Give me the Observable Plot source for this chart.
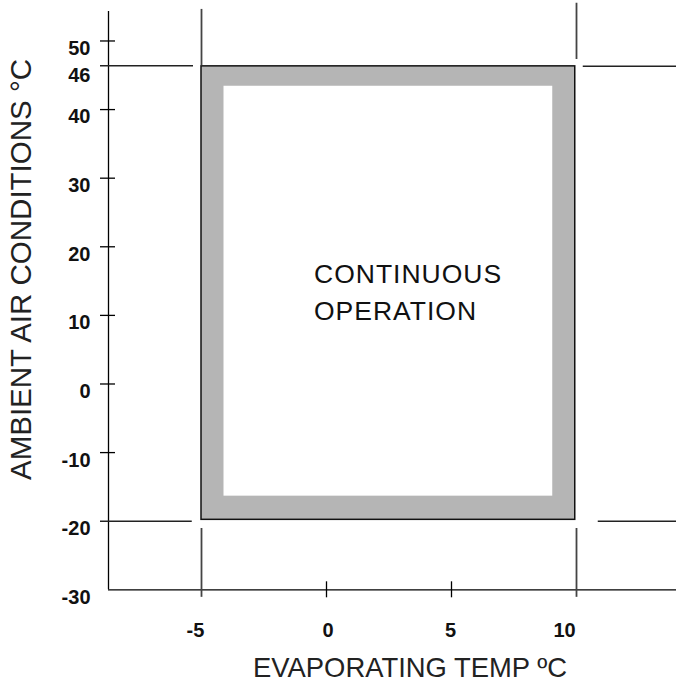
<!DOCTYPE html>
<html><head><meta charset="utf-8">
<script src="https://cdn.jsdelivr.net/npm/d3@7"></script>
<script src="https://cdn.jsdelivr.net/npm/@observablehq/plot@0.6"></script>
<style>body{margin:0;background:#fff} svg{display:block}</style>
</head><body><div id="chart"></div>
<script>
// ---- data ----
const xDomain = [-8.72, 14];
const yDomain = [-30, 55.9];
const xTicks = [-5, 0, 5, 10];
const yTicks = [50, 46, 40, 30, 20, 10, 0, -10, -20, -30];
const xShortTicks = [0, 5];
const yShortTicks = [50, 40, 30, 20, 10, 0, -10];
const yAxisTop = 54.3;
// operating envelope: outer (gray band) and inner (continuous operation)
const envelopeOuter = [{x1: -5, x2: 9.95, y1: -19.8, y2: 46.3}];
const envelopeInner = [{x1: -4.1, x2: 9.05, y1: -16.35, y2: 43.4}];
// limit guide segments
const limitLinesH = [
  {y: 46.4, x1: -9.04, x2: -5.32},
  {y: 46.3, x1: 10.27, x2: 14},
  {y: -20, x1: -9.04, x2: -5.37},
  {y: -20, x1: 10.87, x2: 14}
];
const limitLinesV = [
  {x: -5, y1: 46.4, y2: 54.6},
  {x: -5, y1: -31.1, y2: -21.06},
  {x: 10, y1: 47.3, y2: 55.5},
  {x: 10, y1: -31.1, y2: -21.06}
];
const regionLabel = [{x: -0.5, y: 9.26, text: "CONTINUOUS\nOPERATION"}];
const xTitle = "EVAPORATING TEMP ºC";
const yTitle = "AMBIENT AIR CONDITIONS °C";

// ---- chart ----
const font = "'Liberation Sans', Arial, sans-serif";
const xNudge = {"-5": -6, "0": 1.5, "5": -1, "10": -12};

const chart = Plot.plot({
  width: 676,
  height: 685,
  marginLeft: 108,
  marginRight: 0,
  marginTop: 0,
  marginBottom: 95.7,
  x: {domain: xDomain, axis: null},
  y: {domain: yDomain, axis: null},
  style: {fontFamily: font, background: "#fff"},
  marks: [
    Plot.rect(envelopeOuter, {x1: "x1", x2: "x2", y1: "y1", y2: "y2", fill: "#b5b5b5", stroke: "#111", strokeWidth: 1.5}),
    Plot.rect(envelopeInner, {x1: "x1", x2: "x2", y1: "y1", y2: "y2", fill: "#fff"}),
    // axes lines
    Plot.ruleX([xDomain[0]], {x: d => d, y1: yDomain[0], y2: yAxisTop, stroke: "#000", strokeWidth: 1.3}),
    Plot.ruleY([yDomain[0]], {y: d => d, x1: xDomain[0], x2: xDomain[1], stroke: "#000", strokeWidth: 1.3}),
    // short ticks
    Plot.ruleY(yShortTicks, {y: d => d, x1: xDomain[0], x2: xDomain[0], insetLeft: -8, insetRight: -7, stroke: "#000", strokeWidth: 1.3}),
    Plot.ruleX(xShortTicks, {x: d => d, y1: yDomain[0], y2: yDomain[0], insetTop: -8, insetBottom: -8, stroke: "#000", strokeWidth: 1.3}),
    // limit guides
    Plot.ruleY(limitLinesH, {y: "y", x1: "x1", x2: "x2", stroke: "#222", strokeWidth: 1.5}),
    Plot.ruleX(limitLinesV, {x: "x", y1: "y1", y2: "y2", stroke: "#444", strokeWidth: 1.8}),
    // y tick labels
    Plot.text(yTicks, {x: xDomain[0], y: d => d, text: d => String(d), textAnchor: "end", dx: -18, dy: 7.5, fontWeight: "bold", fontSize: 20, fill: "#111"}),
    // x tick labels
    ...xTicks.map(t => Plot.text([t], {x: d => d, y: yDomain[0], text: d => String(d), dy: 41, dx: xNudge[String(t)], fontWeight: "bold", fontSize: 20, fill: "#111"})),
    // region label
    Plot.text(regionLabel, {x: "x", y: "y", text: "text", textAnchor: "start", lineAnchor: "bottom", fontSize: 26.5, lineHeight: 1.42, fill: "#111"}),
    // axis titles
    Plot.text([xTitle], {x: 3.34, y: -42.73, text: d => d, lineAnchor: "bottom", fontSize: 27.4, fill: "#222"}),
    Plot.text([yTitle], {x: -12.2, y: 16.69, text: d => d, rotate: -90, fontSize: 29.5, fill: "#222"})
  ]
});
// slightly wider letter spacing for the region label, as in the reference
d3.select(chart).selectAll("text").filter(function() {
  return this.textContent.startsWith("CONTINUOUS");
}).attr("letter-spacing", "1px");
document.getElementById("chart").appendChild(chart);
</script>
</body></html>
